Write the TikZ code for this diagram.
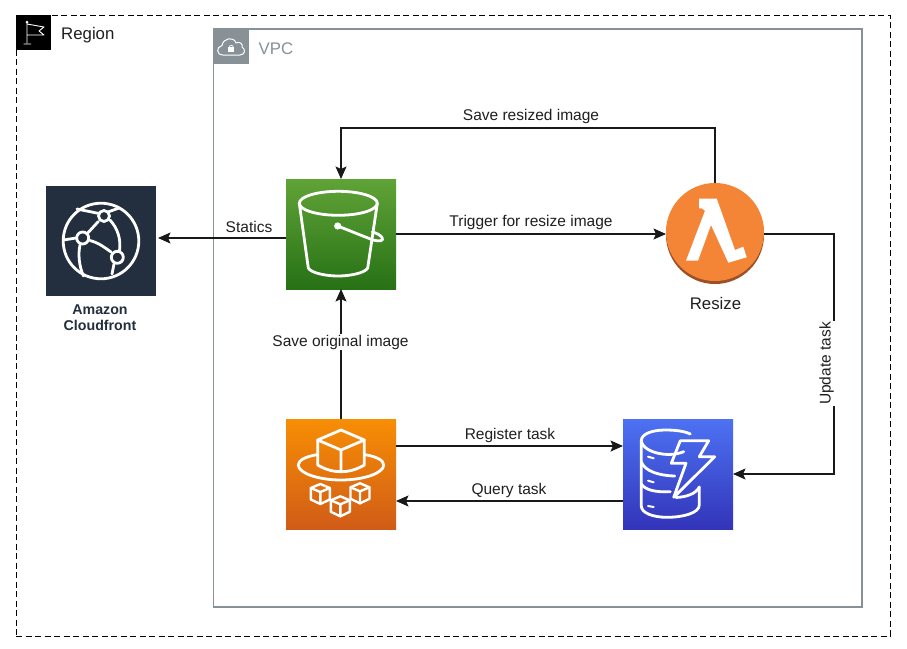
\documentclass[tikz,border=0pt]{standalone}
\usepackage{fontspec}
\setmainfont{Liberation Sans}
\usetikzlibrary{arrows.meta}

\definecolor{vpcgray}{HTML}{879196}
\definecolor{squid}{HTML}{232F3E}
\definecolor{bucketlight}{HTML}{60A337}
\definecolor{bucketdark}{HTML}{277116}
\definecolor{fargatelight}{HTML}{F78E04}
\definecolor{fargatedark}{HTML}{D05C17}
\definecolor{dynamolight}{HTML}{4D72F3}
\definecolor{dynamodark}{HTML}{3334B9}
\definecolor{lambdalight}{HTML}{F58536}
\definecolor{lambdadark}{HTML}{9D5025}

\tikzset{
    service/.style = {minimum size = 110pt, inner sep = 0pt, outer sep = 0pt},
    flow/.style = {draw = black!90, line width = 1.1pt, -{Stealth[length = 12.5pt, width = 11pt, inset = 2.5pt]}},
    flowtext/.style = {font = \fontsize{15.5}{18}\selectfont, text = black!88, inner sep = 1pt},
    grouptext/.style = {font = \fontsize{16.8}{20}\selectfont, inner sep = 0pt, anchor = west},
    tagbox/.style = {minimum size = 35pt, inner sep = 0pt},
    glyph/.style = {draw = white, line width = 2.8pt, line join = round, line cap = round},
    smallbox/.pic = {
        \draw[glyph, line width = 2.4pt] (0,-10) -- (-9.5,-6) -- (-9.5,5.5) -- (0,10) -- (9.5,5.5) -- (9.5,-6) -- cycle;
        \draw[glyph, line width = 2.4pt] (-9.5,-6) -- (0,-2) -- (9.5,-6) (0,-2) -- (0,10);
    }
}

\begin{document}
\begin{tikzpicture}[x = 1pt, y = -1pt]
    \useasboundingbox (0,0) rectangle (907,648);
    \fill[white] (0,0) rectangle (907,648);
    \node[draw = black, line width = 1pt, dash pattern = on 6pt off 3.5pt, minimum width = 874pt, minimum height = 621pt, inner sep = 0pt] (region) at (453,325.5) {};
    \node[draw = vpcgray, line width = 1.2pt, minimum width = 648.5pt, minimum height = 578pt, inner sep = 0pt] (vpc) at (537.75,318) {};
    % group tags
    \node[tagbox, fill = black] (regiontag) at (33.5,32.5) {};
    \node[tagbox, fill = vpcgray] (vpctag) at (231,46.5) {};
    \node[grouptext, text = black!88] (regionlabel) at (61,35) {Region};
    \node[grouptext, text = vpcgray] (vpclabel) at (258.5,48.5) {VPC};
    \draw[white, line width = 0.9pt, line join = round] (27,22) -- (27,43) (23.5,44) -- (31,44) (27,24) -- (44,27) -- (39,31) -- (44,35) -- (27,35);
    \fill[white] (27,22) circle (1.5pt);
    \draw[white, line width = 1pt, line join = round] (223,55) .. controls (216,55) and (216,47) .. (222,45.5) .. controls (223,38) and (234,36) .. (236,43) .. controls (240,41) and (243,44) .. (242,47) .. controls (246,49) and (245,55) .. (240,55) -- cycle;
    \fill[white] (228.3,47.3) rectangle (234.3,51.7);
    \draw[white, line width = 0.7pt] (229.3,47.3) arc[start angle = 180, end angle = 0, radius = 2pt];

    % services
    \node[service, fill = squid] (cloudfront) at (101,241) {};
    \node[service, top color = bucketlight, bottom color = bucketdark] (s3) at (341,234) {};
    \node[service, top color = fargatelight, bottom color = fargatedark] (fargate) at (341,474) {};
    \node[service, top color = dynamolight, bottom color = dynamodark] (dynamo) at (678,474) {};
    \node[circle, minimum size = 98pt, inner sep = 0pt, outer sep = 0pt] (resize) at (715,234) {};

    % cloudfront icon
    \begin{scope}[shift = {(cloudfront.center)}]
        \draw[glyph] (0,0) circle (37.8pt);
        \draw[glyph] (3,-25) circle (5.5pt) (-18.3,-3) circle (6pt) (16.3,16.3) circle (6pt);
        \draw[glyph] (-13.7,-7.5) -- (-2.7,-19.5);
        \draw[glyph] (-11,-0.5) .. controls (-2,2) and (3,6) .. (10,11);
        \draw[glyph] (9,-21) .. controls (17,-12) and (20,-2) .. (18.5,10);
        \draw[glyph] (-37.5,-1) -- (-25,-3);
        \draw[glyph] (-21,4) .. controls (-23,13) and (-22,25) .. (-17.5,35);
        \draw[glyph] (7,-29) -- (18,-33);
        \draw[glyph] (-2,-27.5) -- (-24,-32);
        \draw[glyph] (13,23) -- (11,33);
    \end{scope}
    % bucket icon
    \begin{scope}[shift = {(s3.center)}]
        \draw[glyph] (-2.7,-30.7) ellipse (39pt and 12pt);
        \draw[glyph] (-41.7,-30.7) -- (-32.7,34) .. controls (-30,39) and (-15,42) .. (-3,42) .. controls (9,42) and (24,39) .. (26.7,34) -- (36.3,-30.7);
        \fill[white] (-3.3,-8) circle (3.6pt);
        \draw[glyph] (-3.3,-8) -- (30.7,5.5) .. controls (38,8) and (43,7) .. (41.3,4) .. controls (40,1) and (35,-1) .. (31.3,-2);
    \end{scope}
    % lambda icon
    \begin{scope}[shift = {(resize.center)}]
        \fill[lambdadark] (0,1) circle (49pt);
        \fill[lambdalight] (0,-2) circle (49pt);
        \fill[white] (-16,-35.5) -- (1.7,-35.5) -- (20,16) -- (28.3,12.7) -- (31.7,23.3) -- (13.3,28.7) -- (-4,-9) -- (-17,26.7) -- (-29,26.7) -- (-10,-23.3) -- (-13.3,-25.7) -- (-16,-25.7) -- cycle;
    \end{scope}
    % fargate icon
    \begin{scope}[shift = {(fargate.center)}]
        \draw[glyph] (0,-44) -- (-23.3,-34) -- (-23.3,-9) .. controls (-15,-4) and (-7,-2.3) .. (0,-2.3) .. controls (7,-2.3) and (15,-4) .. (23.3,-9) -- (23.3,-34) -- cycle;
        \draw[glyph] (-23.3,-34) -- (0,-24) -- (23.3,-34) (0,-24) -- (0,-2.3);
        \draw[glyph] (-23.3,-19.5) .. controls (-35,-17.5) and (-42.7,-14) .. (-42.7,-9) .. controls (-42.7,-1) and (-23,6) .. (0,6) .. controls (23,6) and (42.7,-1) .. (42.7,-9) .. controls (42.7,-14) and (35,-17.5) .. (23.3,-19.5);
        \pic at (-20.7,20) {smallbox};
        \pic at (-0.7,32.3) {smallbox};
        \pic at (19,19.3) {smallbox};
    \end{scope}
    % dynamo icon
    \begin{scope}[shift = {(dynamo.center)}]
        \draw[glyph] (12.3,-40) .. controls (6,-43) and (-3,-44) .. (-12.7,-44) .. controls (-26,-44) and (-36.7,-40) .. (-36.7,-33.3) -- (-36.7,32) .. controls (-36.7,39) and (-25,43.3) .. (-11,43.3) .. controls (5,43.3) and (21.3,39) .. (21.3,31) -- (21.3,13);
        \draw[glyph] (-36.7,-33.3) .. controls (-36,-26) and (-25,-20) .. (-10,-19.5) .. controls (-4,-19.5) and (1,-20.5) .. (5.7,-22.3);
        \draw[glyph] (-36.7,-12) .. controls (-33,-3) and (-20,1.5) .. (-3.3,2);
        \draw[glyph] (-36.7,10) .. controls (-33,16) and (-22,18.5) .. (-7.7,17.7);
        \draw[glyph] (-2,23.5) .. controls (8,23) and (18,20) .. (21.3,13);
        \draw[glyph, line width = 2pt] (-30,-17.3) -- (-24.3,-15.7) (-30,6.7) -- (-24.3,8.3) (-30,32) -- (-24.3,33);
        \draw[glyph] (2.3,-33.3) -- (30.7,-33.3) -- (21.3,-17.3) -- (36.7,-17.3) -- (-4.3,23.3) -- (8,-10.7) -- (-6.7,-10.7) -- cycle;
    \end{scope}

    % connectors
    \draw[flow, shorten > = 2pt] ([yshift = -4pt]s3.west) -- ([yshift = 3pt]cloudfront.east);
    \draw[flow] ([yshift = 2pt]resize.north) -- ++(0,-55) -| (s3.north);
    \draw[flow] (s3.east) -- (resize.west);
    \draw[flow] (resize.east) -- ++(70,0) |- (dynamo.east);
    \draw[flow] (fargate.north) -- (s3.south);
    \draw[flow] ([yshift = 28pt]fargate.east) -- ([yshift = 28pt]dynamo.west);
    \draw[flow] ([yshift = -27pt]dynamo.west) -- ([yshift = -27pt]fargate.east);

    % labels
    \node[align = center, font = \fontsize{14.2}{16}\selectfont\bfseries, text = squid, inner sep = 0pt] (cloudfrontlabel) at (100,317.5) {Amazon\\Cloudfront};
    \node[font = \fontsize{16.8}{20}\selectfont, text = black!88, inner sep = 0pt] (resizelabel) at (715.5,303.5) {Resize};
    \node[flowtext] (staticslabel) at (249,226.5) {Statics};
    \node[flowtext] (savedlabel) at (531,116.5) {Save resized image};
    \node[flowtext] (triggerlabel) at (531,222.5) {Trigger for resize image};
    \node[flowtext] (registerlabel) at (510,435.5) {Register task};
    \node[flowtext] (querylabel) at (509,490.5) {Query task};
    \node[flowtext, fill = white] (originallabel) at (340.5,342) {Save original image};
    \node[flowtext, fill = white, rotate = 90, anchor = south] (updatelabel) at (835,363.5) {Update task};
\end{tikzpicture}
\end{document}
